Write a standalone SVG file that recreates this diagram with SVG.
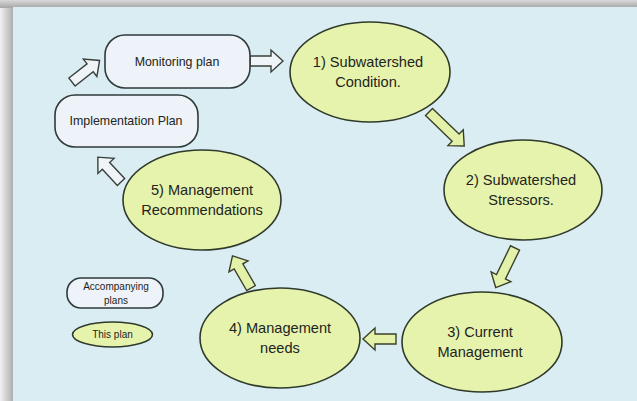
<svg xmlns="http://www.w3.org/2000/svg" width="637" height="401" viewBox="0 0 637 401">
<defs>
<linearGradient id="gl" x1="0" y1="0" x2="1" y2="0"><stop offset="0" stop-color="#f2f2f2"/><stop offset="1" stop-color="#a9a9a9"/></linearGradient>
<linearGradient id="gt" x1="0" y1="0" x2="0" y2="1"><stop offset="0" stop-color="#d8d8d8"/><stop offset="1" stop-color="#a5a5a5"/></linearGradient>
<style>
.ell{fill:#e6f3ad;stroke:#2f3a2a;stroke-width:1.6}
.box{fill:#edf3f8;stroke:#2f3a3a;stroke-width:1.6}
.t{font-family:"Liberation Sans",Arial,sans-serif;fill:#1e2420;text-anchor:middle}
.big{font-size:14.6px}
.mid{font-size:12.4px}
.sm{font-size:10px}
.aw{fill:#eef4f7;stroke:#3a3f3a;stroke-width:1.4;stroke-linejoin:miter}
.ag{fill:#e3f2a8;stroke:#3a3f2a;stroke-width:1.4;stroke-linejoin:miter}
</style>
</defs>
<rect x="0" y="0" width="637" height="401" fill="#ffffff"/>
<rect x="0" y="0" width="14" height="401" fill="url(#gl)"/>
<rect x="0" y="0" width="637" height="8" fill="url(#gt)"/>
<rect x="13" y="7" width="624" height="394" fill="#d9edf3"/>

<g id="connectors">
<path class="aw" transform="translate(250,61)" d="M0,-5 H21 V-11 L33,0 L21,11 V5 H0 Z"/>
<path class="aw" transform="translate(72,82) rotate(-38)" d="M0,-5 H23 V-11 L35,0 L23,11 V5 H0 Z"/>
<path class="aw" transform="translate(121,182) rotate(-133)" d="M0,-5 H22 V-11 L34,0 L22,11 V5 H0 Z"/>
<path class="ag" transform="translate(429,112) rotate(44)" d="M0,-5 H37 V-11 L49,0 L37,11 V5 H0 Z"/>
<path class="ag" transform="translate(515,248) rotate(116)" d="M0,-5 H32 V-11 L44,0 L32,11 V5 H0 Z"/>
<path class="ag" transform="translate(396,339) rotate(180)" d="M0,-5 H21 V-11 L33,0 L21,11 V5 H0 Z"/>
<path class="ag" transform="translate(251,288) rotate(-120)" d="M0,-5 H25 V-11 L37,0 L25,11 V5 H0 Z"/>
</g>

<g id="monitoring">
<rect class="box" x="105" y="35" width="145" height="53" rx="20" ry="20"/>
<text class="t mid" x="177" y="66">Monitoring plan</text>
</g>
<g id="implementation">
<rect class="box" x="55" y="95" width="143" height="52" rx="20" ry="20"/>
<text class="t mid" x="126" y="125">Implementation Plan</text>
</g>
<g id="n1">
<ellipse class="ell" cx="370" cy="72" rx="80" ry="50"/>
<text class="t big" x="368" y="67">1) Subwatershed</text>
<text class="t big" x="368" y="87">Condition.</text>
</g>
<g id="n2">
<ellipse class="ell" cx="523" cy="190" rx="79" ry="50"/>
<text class="t big" x="521" y="185">2) Subwatershed</text>
<text class="t big" x="521" y="205">Stressors.</text>
</g>
<g id="n3">
<ellipse class="ell" cx="482" cy="342" rx="80" ry="50"/>
<text class="t big" x="480" y="337">3) Current</text>
<text class="t big" x="480" y="357">Management</text>
</g>
<g id="n4">
<ellipse class="ell" cx="280" cy="338" rx="80" ry="50"/>
<text class="t big" x="280" y="333">4) Management</text>
<text class="t big" x="280" y="353">needs</text>
</g>
<g id="n5">
<ellipse class="ell" cx="202" cy="200" rx="79" ry="50"/>
<text class="t big" x="202" y="195">5) Management</text>
<text class="t big" x="202" y="215">Recommendations</text>
</g>
<g id="legend-accompanying">
<rect class="box" x="67" y="278" width="96" height="30" rx="14" ry="14"/>
<text class="t sm" x="116" y="290">Accompanying</text>
<text class="t sm" x="116" y="304">plans</text>
</g>
<g id="legend-this">
<ellipse class="ell" cx="112.5" cy="334.5" rx="40" ry="12.5"/>
<text class="t sm" x="112.5" y="338">This plan</text>
</g>
</svg>
